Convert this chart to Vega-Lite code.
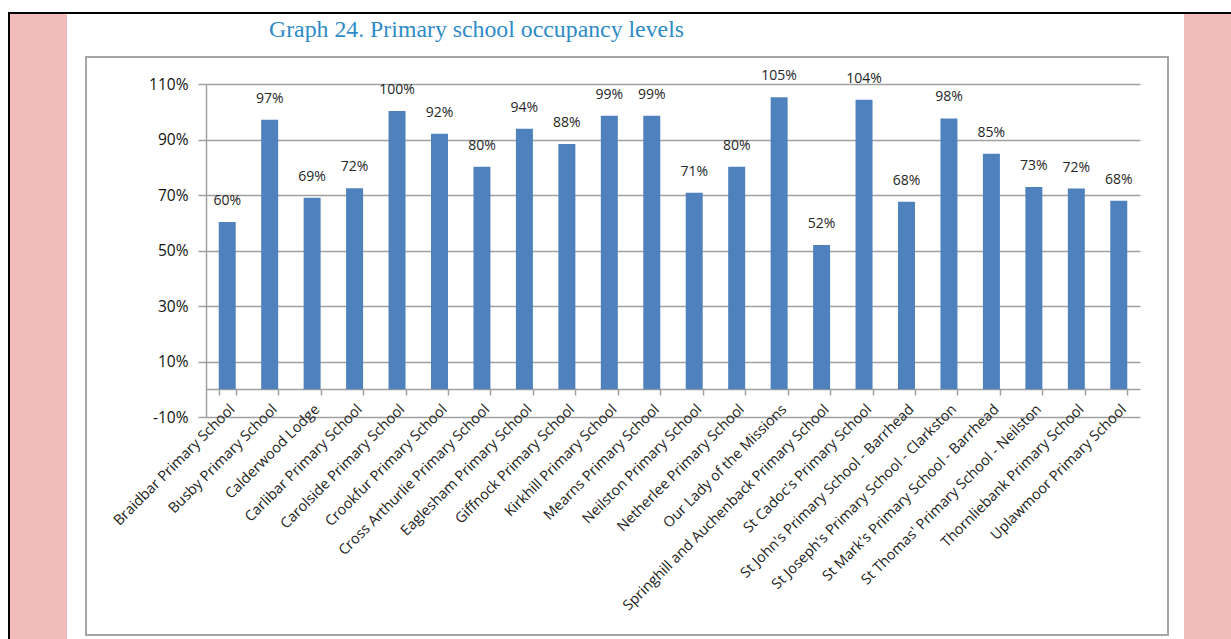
{
  "$schema": "https://vega.github.io/schema/vega-lite/v6.json",
  "background": "white",
  "padding": {"left": 8, "top": 12, "right": 0, "bottom": 0},
  "autosize": {"type": "pad"},
  "config": {"view": {"stroke": null}, "concat": {"spacing": 0}},
  "spacing": 0,
  "vconcat": [
    {"width": 1223, "height": 2, "data": {"values": []}, "mark": "rect", "encoding": {}, "view": {"fill": "#000000", "stroke": null}},
    {
      "spacing": 0,
      "hconcat": [
        {"width": 2, "height": 625, "data": {"values": []}, "mark": "rect", "encoding": {}, "view": {"fill": "#000000", "stroke": null}},
        {"width": 57, "height": 625, "data": {"values": []}, "mark": "rect", "encoding": {}, "view": {"fill": "#f2bcbb", "stroke": null}},
        {"width": 17, "height": 625, "data": {"values": []}, "mark": "rect", "encoding": {}, "view": {"fill": "#ffffff", "stroke": null}},
        {
          "spacing": 0,
          "vconcat": [
            {"width": 1082, "height": 4, "data": {"values": []}, "mark": "rect", "encoding": {}, "view": {"fill": "#ffffff", "stroke": null}},
            {
              "width": 1082, "height": 1, "data": {"values": []}, "mark": "rect", "encoding": {},
              "view": {"fill": "#ffffff", "stroke": null},
              "title": {
                "text": "Graph 24. Primary school occupancy levels",
                "anchor": "start",
                "dx": 183,
                "font": "Liberation Serif",
                "fontSize": 23.8,
                "fontWeight": "normal",
                "color": "#2e8bc8",
                "offset": 13
              }
            },
            {
              "width": 1082,
              "height": 578,
              "view": {"stroke": "#a6a6a6", "strokeWidth": 2, "fill": "#ffffff"},
              "data": {
                "values": [
                  {"school": "Braidbar Primary School", "value": 0.603},
                  {"school": "Busby Primary School", "value": 0.971},
                  {"school": "Calderwood Lodge", "value": 0.69},
                  {"school": "Carlibar Primary School", "value": 0.724},
                  {"school": "Carolside Primary School", "value": 1.003},
                  {"school": "Crookfur Primary School", "value": 0.921},
                  {"school": "Cross Arthurlie Primary School", "value": 0.802},
                  {"school": "Eaglesham Primary School", "value": 0.939},
                  {"school": "Giffnock Primary School", "value": 0.884},
                  {"school": "Kirkhill Primary School", "value": 0.986},
                  {"school": "Mearns Primary School", "value": 0.986},
                  {"school": "Neilston Primary School", "value": 0.708},
                  {"school": "Netherlee Primary School", "value": 0.802},
                  {"school": "Our Lady of the Missions", "value": 1.052},
                  {"school": "Springhill and Auchenback Primary School", "value": 0.52},
                  {"school": "St Cadoc's Primary School", "value": 1.043},
                  {"school": "St John's Primary School - Barrhead", "value": 0.676},
                  {"school": "St Joseph's Primary School - Clarkston", "value": 0.976},
                  {"school": "St Mark's Primary School - Barrhead", "value": 0.849},
                  {"school": "St Thomas' Primary School - Neilston", "value": 0.729},
                  {"school": "Thornliebank Primary School", "value": 0.723},
                  {"school": "Uplawmoor Primary School", "value": 0.679}
                ]
              },
              "encoding": {
                "x": {
                  "field": "school",
                  "type": "nominal",
                  "sort": null,
                  "scale": {"range": [120, 1054], "paddingInner": 0.6, "paddingOuter": 0.3},
                  "axis": {
                    "title": null,
                    "labelAngle": -45,
                    "labelAlign": "right",
                    "labelFont": "Open Sans",
                    "labelFontSize": 14.5,
                    "labelColor": "#222222",
                    "labelPadding": 7,
                    "labelLimit": 500,
                    "labelOverlap": false,
                    "offset": -246,
                    "tickBand": "extent",
                    "tickSize": 6,
                    "tickColor": "#a0a0a0",
                    "tickWidth": 1.5,
                    "domainColor": "#a0a0a0",
                    "domainWidth": 1.5,
                    "minExtent": 0,
                    "maxExtent": 0
                  }
                },
                "y": {
                  "field": "value",
                  "type": "quantitative",
                  "scale": {"domain": [-0.1, 1.1], "range": [360, 27], "nice": false, "zero": false},
                  "axis": {
                    "title": null,
                    "values": [-0.1, 0.1, 0.3, 0.5, 0.7, 0.9, 1.1],
                    "labelExpr": "(datum.value < 0 ? '-' : '') + format(abs(datum.value), '.0%')",
                    "labelFont": "Open Sans",
                    "labelFontSize": 15.5,
                    "labelColor": "#111111",
                    "labelPadding": 10,
                    "offset": -120,
                    "tickSize": 8,
                    "tickColor": "#a0a0a0",
                    "tickWidth": 1.5,
                    "domainColor": "#a0a0a0",
                    "domainWidth": 1.5,
                    "gridColor": "#a0a0a0",
                    "gridWidth": 1.5,
                    "minExtent": 0,
                    "maxExtent": 0
                  }
                }
              },
              "layer": [
                {"mark": {"type": "bar", "color": "#4f81bd"}, "encoding": {"y2": {"datum": 0}}},
                {
                  "mark": {"type": "text", "dy": -21, "font": "Open Sans", "fontSize": 14, "color": "#262626"},
                  "encoding": {"text": {"field": "value", "type": "quantitative", "format": ".0%"}}
                }
              ]
            }
          ]
        },
        {"width": 15, "height": 625, "data": {"values": []}, "mark": "rect", "encoding": {}, "view": {"fill": "#ffffff", "stroke": null}},
        {"width": 50, "height": 625, "data": {"values": []}, "mark": "rect", "encoding": {}, "view": {"fill": "#f2bcbb", "stroke": null}}
      ]
    }
  ]
}
